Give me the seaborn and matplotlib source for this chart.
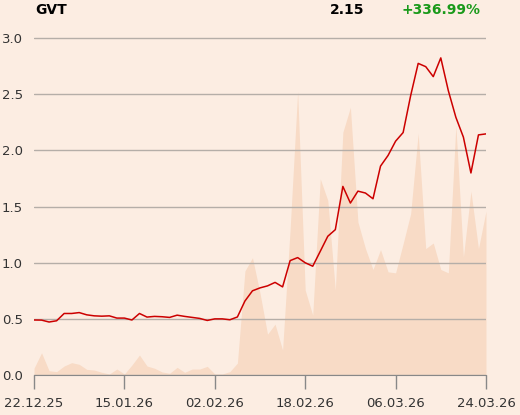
import numpy as np
import pandas as pd
import seaborn as sns
import matplotlib.pyplot as plt

# trading-day index, labels every 12 sessions
tick_labels = ["22.12.25", "15.01.26", "02.02.26", "18.02.26", "06.03.26", "24.03.26"]

price = [0.49, 0.489, 0.472, 0.483, 0.548, 0.548, 0.556, 0.536, 0.527, 0.524,
         0.527, 0.507, 0.507, 0.49, 0.548, 0.516, 0.522, 0.519, 0.513, 0.533,
         0.522, 0.513, 0.504, 0.486, 0.5, 0.5, 0.492, 0.517, 0.659, 0.75,
         0.776, 0.794, 0.825, 0.785, 1.019, 1.046, 1.0, 0.969, 1.102, 1.236,
         1.295, 1.68, 1.532, 1.638, 1.621, 1.57, 1.861, 1.956, 2.083, 2.16,
         2.489, 2.776, 2.747, 2.658, 2.825, 2.533, 2.296, 2.119, 1.80, 2.139,
         2.148]

# volume, scaled to the price axis
volume = [0.06, 0.198, 0.038, 0.03, 0.08, 0.11, 0.095, 0.05, 0.044, 0.024,
          0.009, 0.053, 0.009, 0.089, 0.178, 0.08, 0.06, 0.027, 0.015, 0.068,
          0.024, 0.053, 0.053, 0.077, 0.009, 0.009, 0.03, 0.106, 0.927, 1.045,
          0.73, 0.364, 0.453, 0.222, 1.30, 2.527, 0.756, 0.533, 1.748, 1.556,
          0.756, 2.163, 2.385, 1.363, 1.126, 0.94, 1.117, 0.919, 0.91, 1.17,
          1.437, 2.154, 1.126, 1.176, 0.94, 0.91, 2.222, 1.052, 1.638, 1.126,
          1.46]

symbol = "GVT"
last_price = "2.15"
change = "+336.99%"

BG = "#fcede2"
df = pd.DataFrame({"idx": np.arange(len(price)), "price": price, "volume": volume})

sns.set_style("white")
plt.rcParams['font.family'] = ['DejaVu Sans']

fig = plt.figure(figsize=(5.2, 4.15), dpi=100, facecolor=BG)
ax = fig.add_axes([0.0654, 0.0964, 0.8692, 0.852])
ax.set_facecolor(BG)

# volume area sits under the grid lines
ax.fill_between(df["idx"], 0, df["volume"], color="#f8dbc6", linewidth=0, zorder=0.2)
sns.lineplot(data=df, x="idx", y="price", ax=ax, color="#cc0000", linewidth=1.1, zorder=3)

ax.set_ylim(0, 3.15)
ax.set_xlim(0, 60)
ax.set_yticks([0.0, 0.5, 1.0, 1.5, 2.0, 2.5, 3.0])
ax.set_yticklabels(["0.0", "0.5", "1.0", "1.5", "2.0", "2.5", "3.0"])
ax.grid(axis="y", color="#b5aea8", linewidth=1)
ax.set_axisbelow(True)
ax.set_xlabel("")
ax.set_ylabel("")
ax.tick_params(axis="y", length=0, pad=8, labelsize=9.5, labelcolor="#333333")

ax.set_xticks(np.arange(0, 61, 12))
ax.set_xticklabels(tick_labels)
ax.tick_params(axis="x", bottom=True, direction="out", length=10, width=1,
               color="#888888", pad=6, labelsize=9.5, labelcolor="#333333")
for name, s in ax.spines.items():
    s.set_visible(name == "bottom")
ax.spines["bottom"].set_color("#888888")

fig.text(0.067, 0.975, symbol, fontsize=10, fontweight="bold", va="center", color="black")
fig.text(0.70, 0.975, last_price, fontsize=10, fontweight="bold", va="center", ha="right", color="black")
fig.text(0.924, 0.975, change, fontsize=10, fontweight="bold", va="center", ha="right", color="#1a9a1a")

fig.savefig("out.png", dpi=100, facecolor=BG)
